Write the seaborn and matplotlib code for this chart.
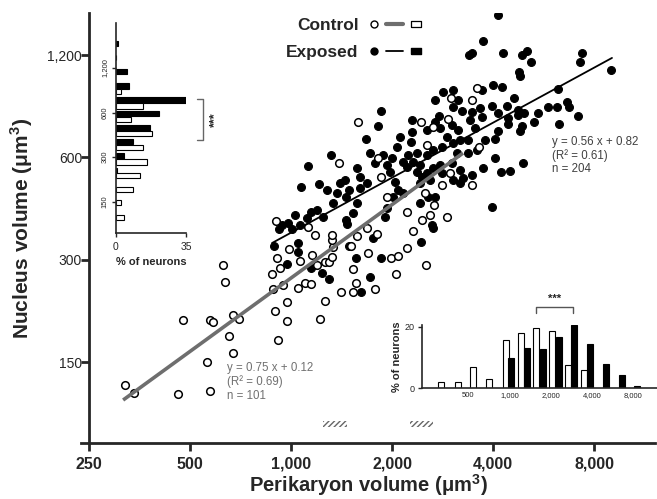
import numpy as np
import pandas as pd
import seaborn as sns
import matplotlib.pyplot as plt
from matplotlib.lines import Line2D
from matplotlib.patches import Rectangle
from matplotlib.legend_handler import HandlerTuple
from matplotlib.ticker import NullLocator

sns.set_style("ticks")
plt.rcParams['font.family'] = ['Liberation Sans', 'DejaVu Sans']
plt.rcParams['mathtext.fontset'] = 'custom'
plt.rcParams['mathtext.rm'] = 'Liberation Sans'
plt.rcParams['mathtext.bf'] = 'Liberation Sans:bold'

# scatter: perikaryon volume vs nucleus volume (um^3)
control_peri = [626, 636, 478, 574, 584, 673, 701, 655, 670, 561, 461, 574, 320, 340,
                917, 896, 975, 971, 886, 949, 880, 906, 927, 989, 1064, 1051, 1101, 1147,
                1158, 1220, 1263, 1193, 1263, 1298, 1322, 1337, 1322, 1322, 1179, 1409,
                1533, 1562, 1527, 1512, 1569, 1699, 1780, 1808, 1682, 1982, 2088, 2052,
                2213, 2305, 2526, 1126, 1587, 1393, 2440, 2645, 2538, 2992, 2943, 1820,
                1851, 1929, 900, 2213, 2509, 2813, 2675, 2452, 2596, 2910, 2978, 3577,
                3470, 3633, 3470]
control_nuc = [289, 258, 200, 200, 197, 206, 201, 179, 160, 150, 121, 123, 128, 122,
               174, 212, 198, 225, 246, 252, 273, 303, 284, 322, 298, 248, 257, 254,
               310, 201, 227, 289, 296, 296, 305, 328, 343, 355, 355, 241,
               241, 257, 282, 330, 353, 315, 246, 356, 373, 303, 308, 272,
               325, 364, 289, 375, 761, 579, 764, 736, 653, 896, 778, 599,
               524, 460, 390, 415, 472, 498, 435, 393, 406, 402, 541, 958,
               885, 645, 498]

exposed_peri = [890, 923, 1005, 1047, 1051, 971, 1147, 1235, 1298, 1492, 1562, 1752, 1855,
                1720, 1617, 2435, 2645, 1851, 1820, 1673, 1314, 1126, 1069, 1214, 1277,
                1400, 1449, 1492, 1368, 1337, 1459, 1569, 1606, 1682, 1606, 1569, 1533,
                1459, 1471, 1145, 1193, 1114, 1028, 982, 938, 1064, 1248, 1720, 1780,
                1884, 1929, 1973, 1996, 2066, 2113, 2273, 2290, 2370, 2237, 2161, 2213,
                2315, 2423, 2370, 2450, 2538, 2656, 2780, 2813, 2596, 2423, 2042, 2088,
                2161, 2018, 1929, 1907, 2423, 2565, 2687, 2626, 2687, 2767, 2832, 2687,
                3046, 3152, 3227, 3046, 3012, 3152, 3189, 3046, 2910, 2813, 2656, 2538,
                3118, 3012, 3189, 3262, 3189, 3046, 2290, 2538, 2780, 3392, 4147, 3742,
                3455, 4275, 4890, 5063, 5192, 4780, 4813, 7352, 7265, 8990, 3992, 4263,
                3702, 4630, 4395, 3965, 3658, 3455, 4147, 3702, 3415, 4442, 4757, 4757,
                4958, 5460, 5825, 6195, 6635, 6738, 6237, 7183, 6290, 5310, 4890, 4813,
                4442, 4147, 4055, 3787, 3535, 3375, 3577, 4055, 3742, 3455, 4225, 4495,
                4925, 3965, 3375]
exposed_nuc = [330, 369, 369, 335, 317, 291, 283, 274, 264, 330, 303, 348, 303,
               267, 241, 338, 373, 824, 742, 680, 610, 567, 492, 501, 481,
               504, 515, 481, 470, 440, 460, 557, 526, 504, 487, 440, 411,
               393, 382, 415, 420, 397, 406, 384, 380, 380, 402, 617, 576,
               610, 570, 545, 596, 645, 690, 667, 714, 617, 610, 583, 563,
               583, 570, 545, 526, 539, 557, 570, 539, 515, 504, 509, 481,
               470, 460, 425, 402, 440, 460, 460, 380, 764, 794, 936, 885,
               947, 885, 824, 846, 748, 722, 675, 660, 690, 645, 631, 610,
               617, 576, 551, 521, 504, 515, 773, 722, 731, 1201, 1575, 1323,
               1215, 1215, 1201, 1236, 1147, 1073, 1042, 1219, 1147, 1085, 980, 969,
               947, 896, 850, 850, 837, 818, 809, 791, 773, 782, 827, 800,
               809, 812, 843, 846, 875, 846, 952, 794, 752, 764, 742, 718,
               752, 719, 678, 675, 731, 675, 631, 596, 557, 533, 545, 548,
               576, 430, 617]

# fitted lines (end points)
control_fit_x = [316, 3256]
control_fit_y = [116, 618]
exposed_fit_x = [878, 9050]
exposed_fit_y = [336, 1177]

# hatched marks under the cloud
hatch_ranges = [(1245, 1470), (2265, 2650)]

# nucleus-volume histogram (% of neurons)
nuc_centers_control = [828, 665, 541, 433, 348, 278, 226, 182, 148, 117.5]
nuc_pct_control = [2.8, 13.8, 7.8, 17.9, 13.8, 15.8, 12.1, 8.8, 2.8, 4.1]
nuc_centers_exposed = [1750, 1415, 1138, 905, 731, 591, 472, 382, 305, 244]
nuc_pct_exposed = [1.2, 0.3, 5.5, 6.5, 35, 21.7, 17.1, 8.5, 4.1, 0.5]

# perikaryon-volume histogram (% of neurons)
peri_centers_control = [318, 417, 541, 708, 937, 1206, 1567, 2041, 2671, 3494]
peri_pct_control = [2.2, 2.2, 6.9, 3.0, 15.6, 17.8, 19.6, 18.6, 7.7, 6.0]
peri_centers_exposed = [1030, 1341, 1740, 2285, 2969, 3877, 5082, 6593, 8556]
peri_pct_exposed = [9.8, 13.1, 12.8, 16.6, 20.4, 14.2, 7.9, 4.4, 0.8]

x_ticks = [250, 500, 1000, 2000, 4000, 8000]
y_ticks = [150, 300, 600, 1200]

gray = '#6e6e6e'
fmt = lambda v: f'{int(v):,}'

fig = plt.figure(figsize=(6.57, 4.99), dpi=100)
ax = fig.add_axes([0.1236, 0.1122, 0.8734, 0.8618])

sns.scatterplot(x=exposed_peri, y=exposed_nuc, ax=ax, s=32, color='black',
                edgecolor='black', linewidth=0.8, zorder=3, legend=False)
sns.scatterplot(x=control_peri, y=control_nuc, ax=ax, s=30, color='white',
                edgecolor='black', linewidth=1.1, zorder=4, legend=False)
ax.plot(control_fit_x, control_fit_y, color=gray, lw=2.6, zorder=5, solid_capstyle='butt')
ax.plot(exposed_fit_x, exposed_fit_y, color='black', lw=1.3, zorder=5)

for lo, hi in hatch_ranges:
    ax.add_patch(Rectangle((lo, 96.5), hi - lo, 4.0, facecolor='white', edgecolor='#666666',
                           hatch='//////', lw=0, zorder=2))

ax.set_xscale('log')
ax.set_yscale('log')
ax.set_xlim(237, 12160)
ax.set_ylim(86.7, 1596)
ax.xaxis.set_minor_locator(NullLocator())
ax.yaxis.set_minor_locator(NullLocator())
ax.set_xticks(x_ticks)
ax.set_xticklabels([fmt(v) for v in x_ticks], fontsize=11.5, fontweight='bold')
ax.set_yticks(y_ticks)
ax.set_yticklabels([fmt(v) for v in y_ticks], fontsize=11.5, fontweight='bold',
                   rotation=90, va='center')
ax.spines['left'].set_position(('data', 250))
for s in ['top', 'right']:
    ax.spines[s].set_visible(False)
for s in ['left', 'bottom']:
    ax.spines[s].set_linewidth(2)
ax.tick_params(length=6, width=2, direction='out')
ax.tick_params(axis='x', pad=4)
ax.tick_params(axis='y', pad=-1)
ax.set_xlabel(r'Perikaryon volume (μm$^{\mathbf{3}}$)', fontsize=14.5, fontweight='bold', labelpad=0)
ax.set_ylabel(r'Nucleus volume (μm$^{\mathbf{3}}$)', fontsize=15, fontweight='bold', labelpad=9)

ax.text(0.2536, 0.188, 'y = 0.75 x + 0.12\n(R² = 0.69)\nn = 101', transform=ax.transAxes,
        fontsize=8.3, color='#707070', va='top', ha='left', linespacing=1.15)
ax.text(0.820, 0.715, 'y = 0.56 x + 0.82\n(R² = 0.61)\nn = 204', transform=ax.transAxes,
        fontsize=8.3, color='#404040', va='top', ha='left', linespacing=1.15)

rect_marker = [(-2, -1), (2, -1), (2, 1), (-2, 1), (-2, -1)]
h_control = (Line2D([], [], ls='none', marker='o', mfc='white', mec='black', ms=5, mew=1.0),
             Line2D([], [], color=gray, lw=3),
             Line2D([], [], ls='none', marker=rect_marker, mfc='white', mec='black', ms=7.5, mew=0.9))
h_exposed = (Line2D([], [], ls='none', marker='o', mfc='black', mec='black', ms=5),
             Line2D([], [], color='black', lw=1.3),
             Line2D([], [], ls='none', marker=rect_marker, mfc='black', mec='black', ms=7.5))
fig.legend([h_control, h_exposed], ['Control', 'Exposed'],
           handler_map={tuple: HandlerTuple(ndivide=None, pad=0.25)},
           markerfirst=False, frameon=False, loc='upper left',
           bbox_to_anchor=(286 / 657, 1 - 18 / 499), borderpad=0, borderaxespad=0,
           handlelength=3.4, handletextpad=0.4, labelspacing=0.66,
           prop={'weight': 'bold', 'size': 12.5})

# nucleus histogram inset
axh = fig.add_axes([0.1761, 0.5325, 0.107, 0.4208])
axh.patch.set_alpha(0)
for centers, pct, col in [(nuc_centers_exposed, nuc_pct_exposed, 'black'),
                          (nuc_centers_control, nuc_pct_control, 'white')]:
    c = np.array(centers)
    lo, hi = c * 2 ** -0.06, c * 2 ** 0.06
    axh.barh(y=lo, width=pct, height=hi - lo, align='edge', color=col,
             edgecolor='black', linewidth=0.8)
axh.set_yscale('log')
axh.set_ylim(92, 2400)
axh.set_xlim(0, 35)
axh.yaxis.set_minor_locator(NullLocator())
axh.set_yticks(y_ticks)
axh.set_yticklabels([fmt(v) for v in y_ticks], fontsize=5.5, rotation=90, va='center')
axh.set_xticks([0, 35])
axh.set_xticklabels(['0', '35'], fontsize=7.5)
axh.tick_params(length=3, width=1, pad=2)
axh.tick_params(axis='x', pad=3)
axh.set_xlabel('% of neurons', fontsize=8, fontweight='bold', labelpad=4)
for s in ['top', 'right']:
    axh.spines[s].set_visible(False)
for s in ['left', 'bottom']:
    axh.spines[s].set_linewidth(1.2)
axh.plot([40.3, 43.6, 43.6, 40.3], [739, 739, 392, 392], color='#666666', lw=1, clip_on=False)
axh.text(49.4, 541, '***', rotation=90, ha='center', va='center', fontsize=9,
         fontweight='bold', clip_on=False)

# perikaryon histogram inset
axp = fig.add_axes([0.6418, 0.2218, 0.3582, 0.1269])
axp.patch.set_alpha(0)
for centers, pct, col in [(peri_centers_control, peri_pct_control, 'white'),
                          (peri_centers_exposed, peri_pct_exposed, 'black')]:
    c = np.array(centers)
    lo, hi = c * 2 ** -0.0725, c * 2 ** 0.0725
    axp.bar(x=lo, height=pct, width=hi - lo, align='edge', color=col,
            edgecolor='black', linewidth=0.8)
axp.set_xscale('log')
axp.set_xlim(228, 11920)
axp.set_ylim(0, 20.5)
axp.xaxis.set_minor_locator(NullLocator())
axp.set_xticks(x_ticks[1:])
axp.set_xticklabels([fmt(v) for v in x_ticks[1:]], fontsize=5.5)
axp.set_yticks([0, 20])
axp.set_yticklabels(['0', '20'], fontsize=6.5)
axp.tick_params(axis='x', length=0, pad=3)
axp.tick_params(axis='y', length=3, width=1, pad=2)
axp.set_ylabel('% of neurons', fontsize=8, fontweight='bold', labelpad=2)
for s in ['top', 'right']:
    axp.spines[s].set_visible(False)
for s in ['left', 'bottom']:
    axp.spines[s].set_linewidth(1.2)
axp.plot([1560, 1560, 2890, 2890], [24.4, 26.3, 26.3, 24.4], color='#555555', lw=1, clip_on=False)
axp.text(2145, 27.2, '***', ha='center', va='bottom', fontsize=8, fontweight='bold', clip_on=False)

fig.savefig('out.png', dpi=100)
